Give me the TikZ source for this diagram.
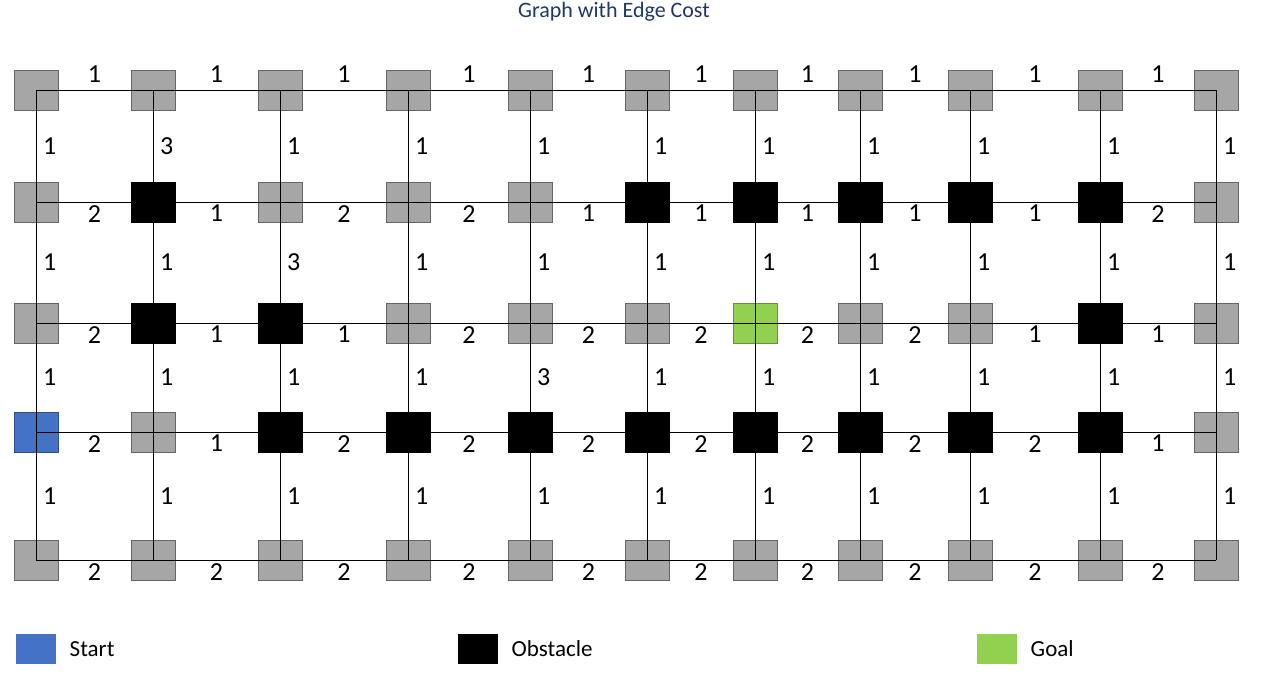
\documentclass[tikz,border=0pt]{standalone}
\usepackage{fontspec}
\setmainfont{Carlito}
\usetikzlibrary{positioning}
\definecolor{cellgray}{HTML}{A6A6A6}
\definecolor{startblue}{HTML}{4472C4}
\definecolor{goalgreen}{HTML}{92D050}
\definecolor{titleblue}{HTML}{1F3864}
\tikzset{
  cell/.style={rectangle,draw=gray!80!black,fill=cellgray,minimum width=44pt,minimum height=40pt,inner sep=0pt},
  wall/.style={cell,draw=black,fill=black},
  start/.style={cell,fill=startblue,draw=startblue!70!black},
  goal/.style={cell,fill=goalgreen,draw=goalgreen!70!black},
  cost/.style={font=\fontsize{26}{26}\selectfont,inner sep=3pt},
  keybox/.style={rectangle,minimum width=40pt,minimum height=30pt,inner sep=0pt},
  keytext/.style={font=\fontsize{23}{23}\selectfont}
}
\begin{document}
\begin{tikzpicture}[x=1pt,y=-1pt]
\useasboundingbox (0,0) rectangle (1280,694);
\node[font=\fontsize{22}{22}\selectfont,text=titleblue] (title) at (614,12) {Graph with Edge Cost};
% grid cells
\foreach \x [count=\c from 0] in {36,153,280,408,530,647,755,860,970,1100,1216}
  \foreach \y [count=\r from 0] in {90,202,323,432,560}
    \node[cell] (n\c-\r) at (\x,\y) {};
% obstacles, start and goal
\foreach \c/\r in {1/1,5/1,6/1,7/1,8/1,9/1,1/2,2/2,9/2,2/3,3/3,4/3,5/3,6/3,7/3,8/3,9/3}
  \node[wall] at (n\c-\r) {};
\node[start] at (n0-3) {};
\node[goal] at (n6-2) {};
% horizontal edges
\foreach \w [count=\c from 0] in {1,1,1,1,1,1,1,1,1,1} {
  \pgfmathtruncatemacro\d{\c+1}
  \draw (n\c-0.center) -- node[cost,above=4pt] {\w} (n\d-0.center);
}
\foreach \r/\ws in {1/{2,1,2,2,1,1,1,1,1,2},2/{2,1,1,2,2,2,2,2,1,1},3/{2,1,2,2,2,2,2,2,2,1},4/{2,2,2,2,2,2,2,2,2,2}}
  \foreach \w [count=\c from 0] in \ws {
    \pgfmathtruncatemacro\d{\c+1}
    \draw (n\c-\r.center) -- node[cost,below=0pt] {\w} (n\d-\r.center);
  }
% vertical edges
\foreach \r/\ws in {0/{1,3,1,1,1,1,1,1,1,1,1},1/{1,1,3,1,1,1,1,1,1,1,1},2/{1,1,1,1,3,1,1,1,1,1,1},3/{1,1,1,1,1,1,1,1,1,1,1}}
  \foreach \w [count=\c from 0] in \ws {
    \pgfmathtruncatemacro\s{\r+1}
    \draw (n\c-\r.center) -- node[cost,right=4pt] {\w} (n\c-\s.center);
  }
% legend
\node[keybox,fill=startblue] (kstart) at (36,649) {};
\node[keytext,right=10pt of kstart] (lstart) {Start};
\node[keybox,fill=black] (kwall) at (478,649) {};
\node[keytext,right=10pt of kwall] (lwall) {Obstacle};
\node[keybox,fill=goalgreen] (kgoal) at (997,649) {};
\node[keytext,right=10pt of kgoal] (lgoal) {Goal};
\end{tikzpicture}
\end{document}
